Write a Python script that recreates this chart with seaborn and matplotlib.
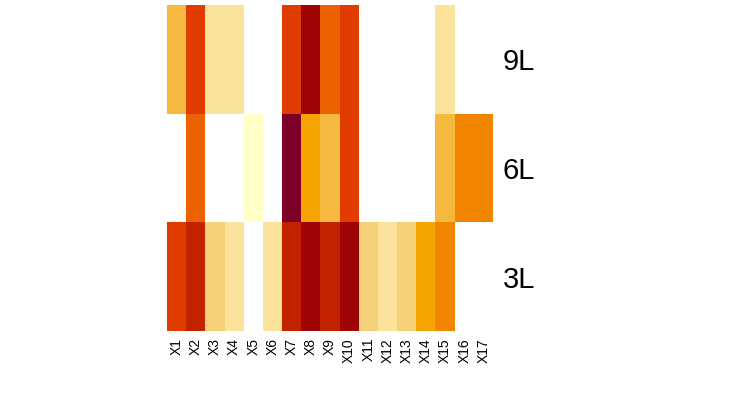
import numpy as np
import pandas as pd
import matplotlib
matplotlib.use("Agg")
import matplotlib.pyplot as plt
from matplotlib.colors import ListedColormap
import seaborn as sns

# colour levels (NaN = empty cell)
rows = ["9L", "6L", "3L"]
cols = ["X%d" % i for i in range(1, 18)]
nan = np.nan
lvl_9L = [4, 8, 2, 2, nan, nan, 8, 10, 7, 8, nan, nan, nan, nan, 2, nan, nan]
lvl_6L = [nan, 7, nan, nan, 1, nan, 11, 5, 4, 8, nan, nan, nan, nan, 4, 6, 6]
lvl_3L = [8, 9, 3, 2, nan, 2, 9, 10, 9, 10, 3, 2, 3, 5, 6, nan, nan]

palette = ["#FFFFC8", "#FBE39C", "#F6D078", "#F7B840", "#F5A300", "#F28500",
           "#EC6100", "#E03C00", "#C22200", "#A00505", "#7E0028"]

df = pd.DataFrame([lvl_9L, lvl_6L, lvl_3L], index=rows, columns=cols)

sns.set_style("white")
plt.rcParams["font.family"] = ["Liberation Sans", "DejaVu Sans"]

fig = plt.figure(figsize=(7.35, 4.11), dpi=100)
ax = fig.add_axes([167 / 735, 1 - 331 / 411, 326 / 735, 326 / 411])
sns.heatmap(df, cmap=ListedColormap(palette), vmin=0.5, vmax=11.5,
            cbar=False, ax=ax, xticklabels=cols, yticklabels=rows)

ax.yaxis.tick_right()
ax.tick_params(axis="y", length=0, pad=7, labelsize=21, rotation=0,
               labelcolor="black")
ax.tick_params(axis="x", length=0, pad=5, labelsize=10, rotation=90,
               labelcolor="black")
for lab in ax.get_yticklabels():
    lab.set_va("center_baseline")
ax.set_xlabel("")
ax.set_ylabel("")
for s in ax.spines.values():
    s.set_visible(False)

fig.savefig("out.png", dpi=100)
